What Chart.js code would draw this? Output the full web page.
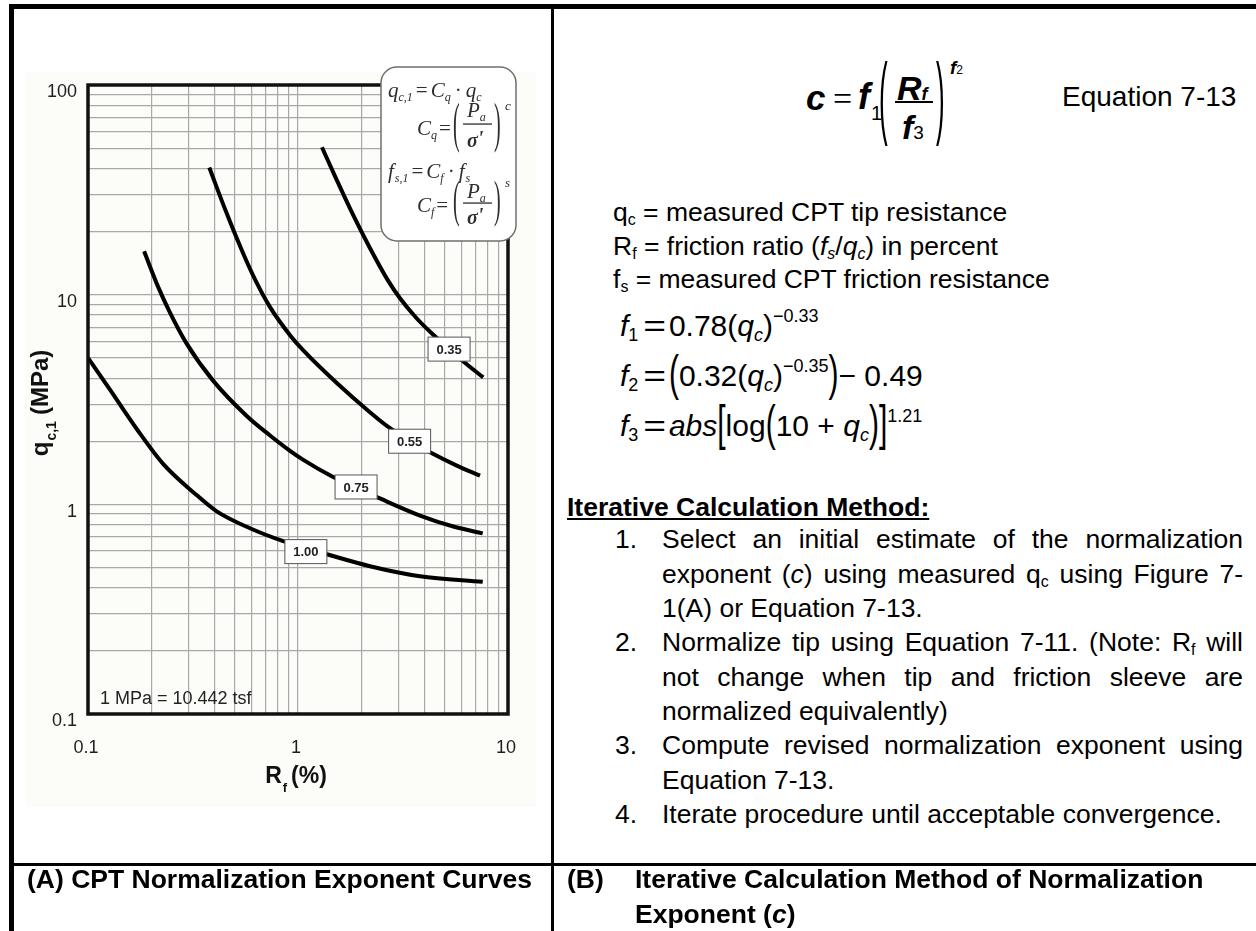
<!DOCTYPE html>
<html>
<head>
<meta charset="utf-8">
<title>CPT Normalization Exponent</title>
<script src="https://cdn.jsdelivr.net/npm/chart.js@4.4.1/dist/chart.umd.min.js"></script>
<style>
  html, body { margin: 0; padding: 0; background: #fff; }
  body { width: 1256px; height: 931px; position: relative; overflow: hidden;
         font-family: "Liberation Sans", Arial, sans-serif; color: #000; }
  #cptChart { position: absolute; left: 0; top: 0; }
  .rule { position: absolute; background: #000; }
  .abs { position: absolute; white-space: nowrap; }
  sub, sup { font-size: 0.6em; line-height: 0; }
  sub { vertical-align: -0.28em; }
  sup { vertical-align: 0.78em; }
  .bi { font-weight: bold; font-style: italic; }
  .def { left: 613px; font-size: 26.5px; line-height: 26.5px; }
  .feq { left: 620px; font-size: 30px; line-height: 30px; }
  .feq .eq { display: inline-block; margin: 0 5px 0 8px; transform: scaleX(1.3); }
  .big { display: inline-block; transform: scaleY(1.65); transform-origin: 50% 62%; }
  .tall { position: absolute; font-size: 26px; line-height: 26px; transform: scaleY(3.5); transform-origin: 50% 15.2px; }
  .step { position: absolute; left: 615px; width: 628px; font-size: 26.5px; line-height: 34.5px; }
  .step .num { position: absolute; left: 0; top: 0; }
  .step .txt { margin-left: 47px; text-align: justify; }
  .cap { font-weight: bold; font-size: 26.5px; line-height: 35px; }
</style>
</head>
<body>

<canvas id="cptChart" width="552" height="862"></canvas>

<!-- table rules -->
<div class="rule" style="left:9px;top:4px;width:1247px;height:5px"></div>
<div class="rule" style="left:9px;top:4px;width:4.5px;height:927px"></div>
<div class="rule" style="left:551px;top:4px;width:2.5px;height:927px"></div>
<div class="rule" style="left:9px;top:863px;width:1247px;height:3px"></div>

<!-- Equation 7-13 -->
<div class="abs bi" style="left:806px;top:80px;font-size:35px;line-height:35px">c</div>
<div class="abs" style="left:833px;top:82px;font-size:34px;line-height:34px;font-family:'Liberation Serif',serif">=</div>
<div class="abs bi" style="left:858px;top:79px;font-size:36px;line-height:36px">f</div>
<div class="abs" style="left:871px;top:103px;font-size:20px;line-height:20px">1</div>
<div class="tall" style="left:879px;top:88px">(</div>
<div class="abs bi" style="left:897px;top:71px;font-size:34px;line-height:34px">R<span style="font-size:18px">f</span></div>
<div class="abs" style="left:895px;top:101px;width:38px;height:1.6px;background:#000"></div>
<div class="abs bi" style="left:902px;top:110px;font-size:34px;line-height:34px">f<span style="font-size:19px;font-weight:normal;font-style:normal">3</span></div>
<div class="tall" style="left:936px;top:88px">)</div>
<div class="abs bi" style="left:950px;top:58px;font-size:19px;line-height:19px">f<span style="font-size:12px;font-weight:normal;font-style:normal">2</span></div>
<div class="abs" style="left:1062px;top:83px;font-size:28px;line-height:28px">Equation 7-13</div>

<!-- definitions -->
<div class="abs def" style="top:199px">q<sub>c</sub> = measured CPT tip resistance</div>
<div class="abs def" style="top:233px">R<sub>f</sub> = friction ratio (<i>f<sub>s</sub></i>/<i>q<sub>c</sub></i>) in percent</div>
<div class="abs def" style="top:266px">f<sub>s</sub> = measured CPT friction resistance</div>

<div class="abs feq" style="top:311px"><i>f</i><sub>1</sub><span class="eq">=</span>0.78(<i>q</i><sub><i>c</i></sub>)<sup>&minus;0.33</sup></div>
<div class="abs feq" style="top:361px"><i>f</i><sub>2</sub><span class="eq">=</span><span class="big">(</span>0.32(<i>q</i><sub><i>c</i></sub>)<sup>&minus;0.35</sup><span class="big">)</span>&minus; 0.49</div>
<div class="abs feq" style="top:411px"><i>f</i><sub>3</sub><span class="eq">=</span><i>abs</i><span class="big">[</span>log<span class="big">(</span>10 + <i>q</i><sub><i>c</i></sub><span class="big">)</span><span class="big">]</span><sup>1.21</sup></div>

<!-- iterative method -->
<div class="abs" style="left:567px;top:490px;font-weight:bold;font-size:26.5px;line-height:34px;text-decoration:underline">Iterative Calculation Method:</div>

<div class="step" style="top:522px"><span class="num">1.</span><div class="txt">Select an initial estimate of the normalization exponent (<i>c</i>) using measured q<sub>c</sub> using Figure 7-<wbr>1(A) or Equation 7-13.</div></div>
<div class="step" style="top:625px"><span class="num">2.</span><div class="txt">Normalize tip using Equation 7-11. (Note: R<sub>f</sub> will not change when tip and friction sleeve are normalized equivalently)</div></div>
<div class="step" style="top:728px"><span class="num">3.</span><div class="txt">Compute revised normalization exponent using Equation 7-13.</div></div>
<div class="step" style="top:797px"><span class="num">4.</span><div class="txt">Iterate procedure until acceptable convergence.</div></div>

<!-- captions -->
<div class="abs cap" style="left:27px;top:862px">(A) CPT Normalization Exponent Curves</div>
<div class="abs cap" style="left:567px;top:862px">(B)</div>
<div class="abs cap" style="left:635px;top:862px">Iterative Calculation Method of Normalization<br>Exponent (<i>c</i>)</div>

<script>
// axis ticks: every log minor gets a gridline, decades get a label
const rfTicks = [0.1, 0.2, 0.3, 0.4, 0.5, 0.6, 0.7, 0.8, 0.9, 1, 2, 3, 4, 5, 6, 7, 8, 9, 10];
const qcTicks = [0.1, 0.2, 0.3, 0.4, 0.5, 0.6, 0.7, 0.8, 0.9, 1, 2, 3, 4, 5, 6, 7, 8, 9,
                 10, 20, 30, 40, 50, 60, 70, 80, 90, 100];
const rfLabelled = [0.1, 1, 10];
const rfLabelText = ['0.1', '1', '10'];
const qcLabelled = [0.1, 1, 10, 100];
const qcLabelText = ['0.1', '1', '10', '100'];

// exponent curves, Rf (%) against qc,1 (MPa)
const curveNames = ['0.35', '0.55', '0.75', '1.00'];

const rf035 = [1.30, 1.53, 1.83, 2.20, 2.68, 3.06, 3.67, 4.41, 5.24, 6.03, 7.62];
const qc035 = [50.5, 35.2, 24.0, 16.7, 11.7, 9.61, 7.72, 6.44, 5.51, 4.87, 4.03];

const rf055 = [0.378, 0.457, 0.549, 0.624, 0.736, 0.916, 1.06, 1.53, 2.20, 2.69, 3.40, 4.25, 5.70, 7.36];
const qc055 = [40.4, 24.5, 15.67, 11.83, 8.72, 6.41, 5.42, 3.79, 2.75, 2.34, 2.01, 1.77, 1.53, 1.37];

const rf075 = [0.185, 0.216, 0.246, 0.295, 0.395, 0.570, 0.736, 0.916, 1.06, 1.47, 1.89, 2.35, 3.81, 5.49, 7.58];
const qc075 = [16.1, 10.86, 8.19, 5.84, 3.88, 2.64, 2.13, 1.80, 1.63, 1.35, 1.20, 1.088, 0.884, 0.784, 0.727];

const rf100 = [0.1, 0.127, 0.171, 0.229, 0.330, 0.410, 0.591, 0.851, 1.09, 1.37, 2.20, 3.81, 7.58];
const qc100 = [5.0, 3.53, 2.28, 1.55, 1.104, 0.926, 0.769, 0.667, 0.618, 0.578, 0.507, 0.454, 0.427];

// where each curve carries its tag
const tagRf = [5.24, 3.40, 1.89, 1.09];
const tagQc = [5.50, 2.00, 1.21, 0.595];

const noteText = '1 MPa = 10.442 tsf';

const sans = '"Liberation Sans", Arial, sans-serif';
const serif = '"Liberation Serif", "Times New Roman", serif';

function toPoints(xs, ys) {
    return xs.map((x, i) => ({x: x, y: ys[i]}));
}

function tickText(value, values, texts) {
    var i = values.indexOf(value);
    return i < 0 ? '' : texts[i];
}

// draw a row of differently styled pieces; each piece is [text, font, dy, gapAfter]
function drawRuns(ctx, x, y, runs) {
    var cx = x;
    runs.forEach(r => {
        ctx.font = r[1];
        ctx.fillText(r[0], cx, y + (r[2] || 0));
        cx += ctx.measureText(r[0]).width + (r[3] || 0);
    });
    return cx;
}

function runsWidth(ctx, runs) {
    var w = 0;
    runs.forEach(r => {
        ctx.font = r[1];
        w += ctx.measureText(r[0]).width + (r[3] || 0);
    });
    return w;
}

// stretched bracket glyph between two y positions
function tallGlyph(ctx, ch, x, top, bottom, font) {
    ctx.save();
    ctx.font = font;
    var m = ctx.measureText(ch);
    var h = m.actualBoundingBoxAscent + m.actualBoundingBoxDescent;
    ctx.translate(x, top);
    ctx.scale(1, (bottom - top) / h);
    ctx.textBaseline = 'alphabetic';
    ctx.fillText(ch, 0, m.actualBoundingBoxAscent);
    ctx.restore();
}

function drawFormulaBox(ctx) {
    var it = 'italic 21px ' + serif;
    var itSmall = 'italic 12px ' + serif;
    var up = '21px ' + serif;
    var sig = 'bold italic 20px ' + serif;

    ctx.save();
    ctx.beginPath();
    ctx.roundRect(381, 67, 135, 174, 16);
    ctx.fillStyle = '#fff';
    ctx.fill();
    ctx.lineWidth = 1.5;
    ctx.strokeStyle = '#6f6f6f';
    ctx.stroke();

    ctx.fillStyle = '#2e2e2e';
    ctx.textBaseline = 'alphabetic';
    ctx.textAlign = 'left';

    // q_c,1 = C_q . q_c
    drawRuns(ctx, 388, 97, [['q', it], ['c,1', itSmall, 4, 3], ['=', up, 0, 3], ['C', it],
        ['q', itSmall, 4, 4], ['\u00b7', up, 0, 4], ['q', it], ['c', itSmall, 4]]);
    // f_s,1 = C_f . f_s
    drawRuns(ctx, 388, 178, [['f', it, 0, 1], ['s,1', itSmall, 4, 3], ['=', up, 0, 3], ['C', it],
        ['f', itSmall, 4, 4], ['\u00b7', up, 0, 4], ['f', it, 0, 1], ['s', itSmall, 4]]);

    // C_q = (Pa / sigma')^c  and  C_f = (Pa / sigma')^s
    [[135, 100, 155, 117, 124, 147, 110, 'q', 'c'], [212, 178, 229, 198, 203, 224, 187, 'f', 's']]
        .forEach(r => {
            drawRuns(ctx, 417, r[0], [['C', it], [r[7], itSmall, 4, 2], ['=', up]]);
            tallGlyph(ctx, '(', 453, r[1], r[2], '20px ' + serif);
            drawRuns(ctx, 467, r[3], [['P', it], ['a', itSmall, 4]]);
            ctx.fillRect(463, r[4] - 0.6, 29, 1.3);
            drawRuns(ctx, 467, r[5], [['\u03c3', sig], ['\'', sig, -2]]);
            tallGlyph(ctx, ')', 494, r[1], r[2], '20px ' + serif);
            drawRuns(ctx, 505, r[6], [[r[8], 'italic 13px ' + serif]]);
        });
    ctx.restore();
}

const cptPlugin = {
    id: 'cptPlugin',
    beforeDraw(chart) {
        var ctx = chart.ctx;
        ctx.save();
        ctx.fillStyle = '#fcfcf9';
        ctx.fillRect(25, 72, 511, 735);
        ctx.restore();
    },
    afterDatasetsDraw(chart) {
        var ctx = chart.ctx;
        var a = chart.chartArea;
        var xs = chart.scales.x, ys = chart.scales.y;
        ctx.save();

        // plot frame
        ctx.lineWidth = 3.5;
        ctx.strokeStyle = '#111';
        ctx.strokeRect(a.left, a.top, a.right - a.left, a.bottom - a.top);

        // curve tags
        ctx.font = 'bold 13px ' + sans;
        ctx.textAlign = 'center';
        ctx.textBaseline = 'middle';
        curveNames.forEach((name, i) => {
            var px = xs.getPixelForValue(tagRf[i]);
            var py = ys.getPixelForValue(tagQc[i]);
            ctx.fillStyle = '#fff';
            ctx.fillRect(px - 21, py - 12, 42, 24);
            ctx.lineWidth = 1;
            ctx.strokeStyle = '#555';
            ctx.strokeRect(px - 21, py - 12, 42, 24);
            ctx.fillStyle = '#222';
            ctx.fillText(name, px, py + 1);
        });

        // unit note
        ctx.textAlign = 'left';
        ctx.textBaseline = 'alphabetic';
        ctx.font = '18px ' + sans;
        ctx.fillStyle = '#222';
        ctx.fillText(noteText, 100, 704);

        drawFormulaBox(ctx);

        // x title: R_f (%)
        ctx.fillStyle = '#111';
        var xRuns = [['R', 'bold 23px ' + sans, 0, 1], ['f', 'bold 13px ' + sans, 9, 4], ['(%)', 'bold 23px ' + sans]];
        drawRuns(ctx, 296 - runsWidth(ctx, xRuns) / 2, 783, xRuns);

        // y title: q_c,1 (MPa), rotated
        var yRuns = [['q', 'bold 24px ' + sans, 0, 1], ['c,1', 'bold 14px ' + sans, 8, 6], ['(MPa)', 'bold 24px ' + sans]];
        ctx.translate(48, 403);
        ctx.rotate(-Math.PI / 2);
        drawRuns(ctx, -runsWidth(ctx, yRuns) / 2, 0, yRuns);
        ctx.restore();
    }
};

const curveData = [toPoints(rf035, qc035), toPoints(rf055, qc055), toPoints(rf075, qc075), toPoints(rf100, qc100)];

new Chart(document.getElementById('cptChart').getContext('2d'), {
    type: 'scatter',
    data: {
        datasets: curveData.map((pts, i) => ({
            label: curveNames[i],
            data: pts,
            showLine: true,
            borderColor: '#000',
            borderWidth: 4,
            pointRadius: 0,
            cubicInterpolationMode: 'monotone',
            fill: false
        }))
    },
    options: {
        responsive: false,
        animation: false,
        devicePixelRatio: 1,
        layout: { padding: { left: 28, top: 85, right: 44, bottom: 108 } },
        plugins: { legend: { display: false }, tooltip: { enabled: false } },
        scales: {
            x: {
                type: 'logarithmic',
                min: 0.1,
                max: 10,
                afterBuildTicks: s => { s.ticks = rfTicks.map(v => ({ value: v })); },
                afterFit: s => { s.height = 40; },
                grid: { color: '#a9a9a9', lineWidth: 1.2, drawTicks: false },
                border: { display: false },
                ticks: {
                    autoSkip: false, maxRotation: 0, padding: 23, labelOffset: -2,
                    color: '#1e1e1e', font: { size: 18, family: sans },
                    callback: v => tickText(v, rfLabelled, rfLabelText)
                }
            },
            y: {
                type: 'logarithmic',
                min: 0.1,
                max: 100,
                afterBuildTicks: s => { s.ticks = qcTicks.map(v => ({ value: v })); },
                afterFit: s => { s.width = 60; },
                grid: { color: '#a9a9a9', lineWidth: 1.2, drawTicks: false },
                border: { display: false },
                ticks: {
                    autoSkip: false, padding: 11, labelOffset: 7.5,
                    color: '#1e1e1e', font: { size: 18, family: sans },
                    callback: v => tickText(v, qcLabelled, qcLabelText)
                }
            }
        }
    },
    plugins: [cptPlugin]
});
</script>
</body>
</html>
